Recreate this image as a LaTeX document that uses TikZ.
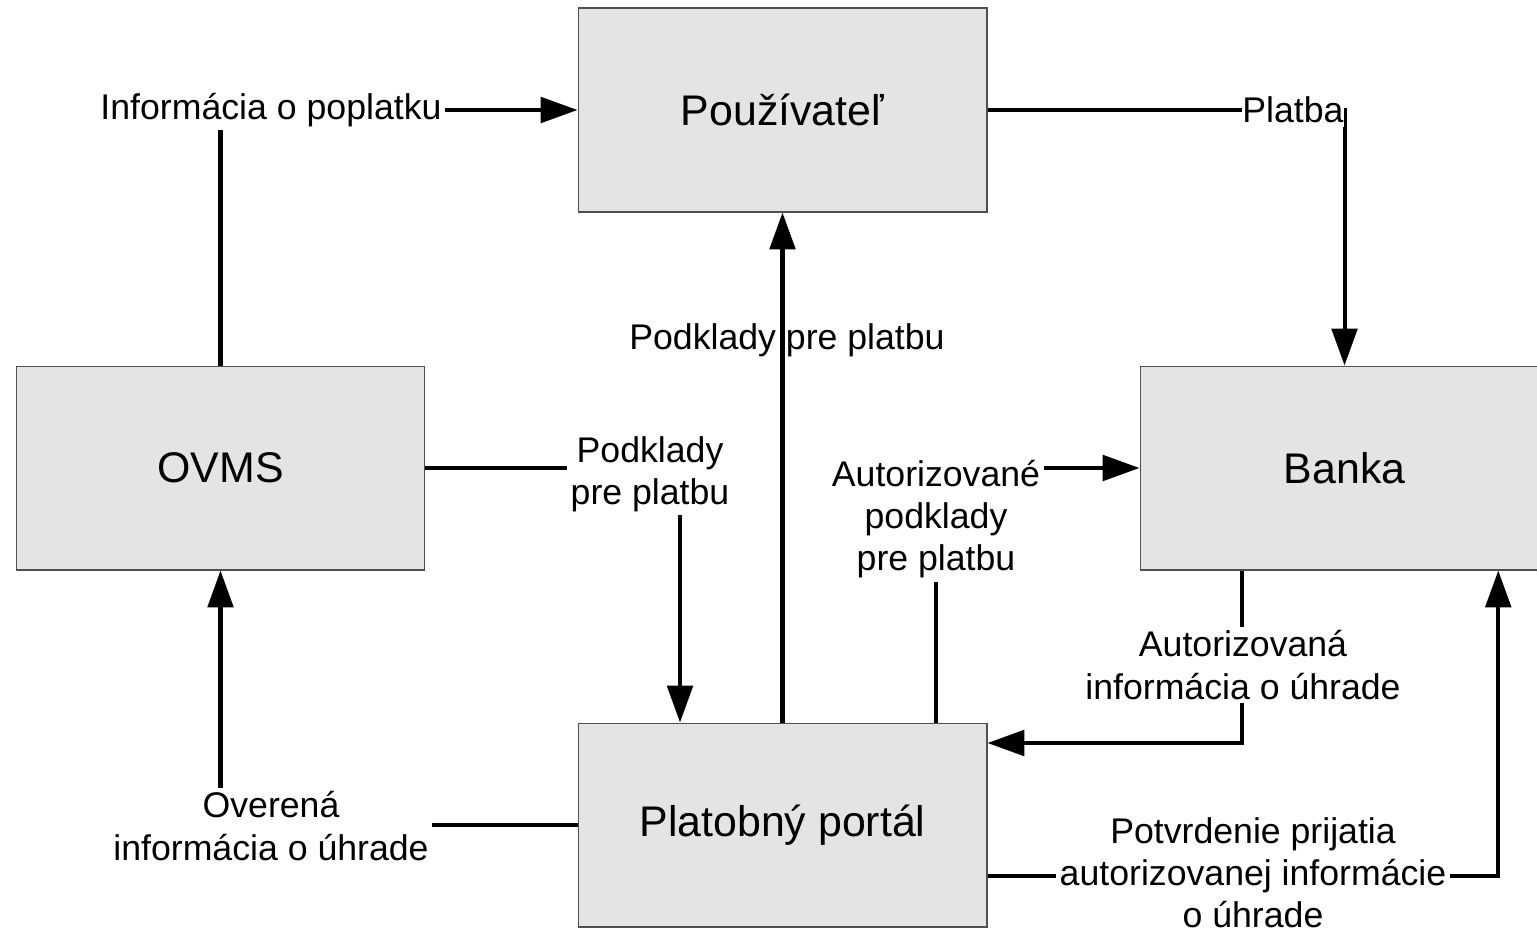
\documentclass[tikz,border=0pt]{standalone}
\usepackage{fontspec}
\setmainfont{Liberation Sans}
\usetikzlibrary{arrows.meta,calc}
\definecolor{boxGray}{RGB}{228,228,228}
\definecolor{edgeGray}{RGB}{80,80,80}
\begin{document}
\begin{tikzpicture}[x=0.02cm,y=-0.02cm,
    entity/.style={draw=edgeGray,line width=0.6pt,fill=boxGray,minimum width=8.18cm,minimum height=4.08cm,
                   font=\fontsize{24.4pt}{29pt}\selectfont},
    note/.style={fill=white,inner sep=2pt,align=center,font=\fontsize{20.3pt}{24pt}\selectfont},
    link/.style={line width=2.3pt},
    linkto/.style={link,-{Triangle[length=21pt,width=14.5pt]}}
  ]
  \useasboundingbox (0,0) rectangle (1537,934);
  \node[entity] (user) at (782.5,110) {Používateľ};
  \node[entity] (ovms) at (220.5,468) {OVMS};
  \node[entity] (bank) at (1344.5,468) {Banka};
  \node[entity] (portal) at (782.5,825) {Platobný portál};

  \draw[linkto] (ovms.north) |- (user.west);
  \draw[linkto] (user.east) -| (bank.north);
  \draw[linkto] (portal.north) -- (user.south);
  \draw[linkto] (ovms.east) -| ($(portal.north west)!.25!(portal.north east)$);
  \draw[linkto] ($(portal.north west)!.875!(portal.north east)$) |- (bank.west);
  \draw[linkto] ($(bank.south west)!.25!(bank.south east)$) |- ($(portal.north east)!.1!(portal.south east)$);
  \draw[linkto] (portal.west) -| (ovms.south);
  \draw[linkto] ($(portal.north east)!.75!(portal.south east)$) -| ($(bank.south west)!.875!(bank.south east)$);

  \node[note] (fee) at (271,110) {Informácia o poplatku};
  \node[note,inner xsep=0pt] (pay) at (1293,110) {Platba};
  \node[note,fill=none] (docs) at (787,340) {Podklady pre platbu};
  \node[note] (docsOvms) at (650,474) {Podklady\\pre platbu};
  \node[note] (docsAuth) at (936,519) {Autorizované\\podklady\\pre platbu};
  \node[note] (infoAuth) at (1243,665) {Autorizovaná\\informácia o úhrade};
  \node[note] (infoOk) at (271,826) {Overená\\informácia o úhrade};
  \node[note] (confirm) at (1253,873) {Potvrdenie prijatia\\autorizovanej informácie\\o úhrade};
\end{tikzpicture}
\end{document}
